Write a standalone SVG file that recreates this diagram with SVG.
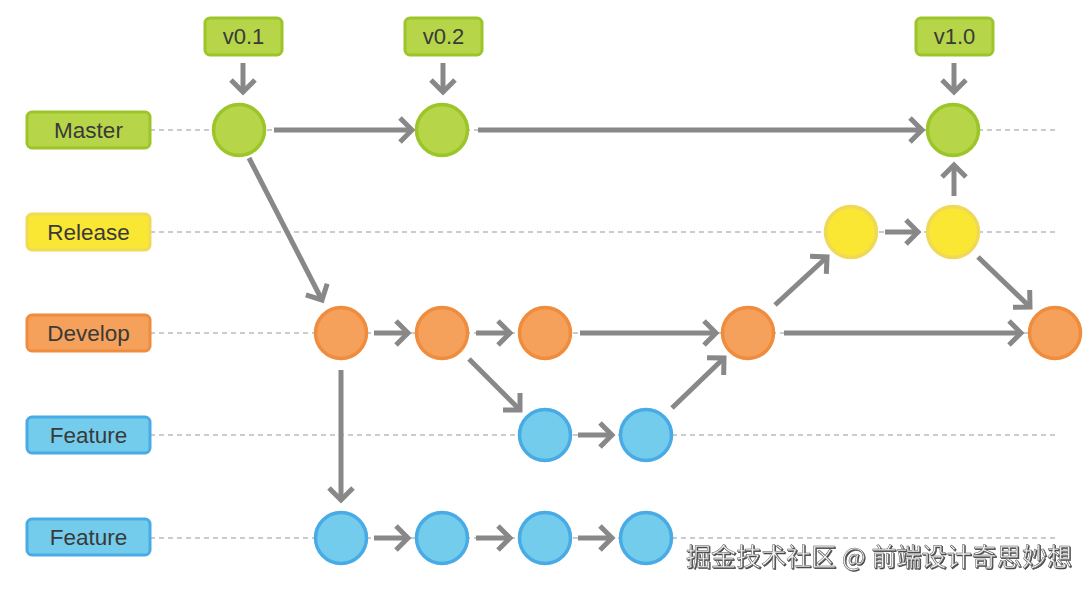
<svg xmlns="http://www.w3.org/2000/svg" width="1090" height="590" viewBox="0 0 1090 590">
<defs>
<marker id="ah" viewBox="-18 -18 24 36" refX="0" refY="0" markerWidth="24" markerHeight="36" markerUnits="userSpaceOnUse" orient="auto">
<path d="M-12,-12 L0,0 L-12,12" fill="none" stroke="#888" stroke-width="5" stroke-linejoin="miter"/>
</marker>
<filter id="sh" x="-5%" y="-30%" width="110%" height="160%">
<feDropShadow dx="1" dy="1" stdDeviation="0.6" flood-color="#333" flood-opacity="0.9"/>
</filter>
</defs>
<style>
.lane{stroke:#bbb;stroke-width:1.5;stroke-dasharray:5 4;fill:none}
.lbl{font-family:"Liberation Sans",Arial,sans-serif;font-size:22.5px;fill:#3a3a3a;text-anchor:middle}
.tag{font-family:"Liberation Sans",Arial,sans-serif;font-size:22px;fill:#3a3a3a;text-anchor:middle}
.g{fill:#b6d548;stroke:#9cc52a}
.y{fill:#f9e733;stroke:#efd957}
.o{fill:#f5a05b;stroke:#f08c3d}
.b{fill:#74ccec;stroke:#48abe5}
.box{stroke-width:3}
.c{stroke-width:3.5}
.conn line{stroke:#888;stroke-width:5;marker-end:url(#ah)}
.wm{font-family:"Noto Sans CJK SC","Liberation Sans",sans-serif;font-size:25px;fill:#f2f2f2;stroke:#555;stroke-width:0.5}
</style>
<g id="lanes">
<line class="lane" x1="150" y1="130" x2="1058" y2="130"/>
<line class="lane" x1="150" y1="232" x2="1058" y2="232"/>
<line class="lane" x1="150" y1="333" x2="1058" y2="333"/>
<line class="lane" x1="150" y1="435" x2="1058" y2="435"/>
<line class="lane" x1="150" y1="538" x2="1058" y2="538"/>
</g>
<g id="label-master"><rect class="g box" x="27" y="112" width="123" height="36" rx="5"/><text class="lbl" x="88.5" y="138">Master</text></g>
<g id="label-release"><rect class="y box" x="27" y="214" width="123" height="36" rx="5"/><text class="lbl" x="88.5" y="240">Release</text></g>
<g id="label-develop"><rect class="o box" x="27" y="315" width="123" height="36" rx="5"/><text class="lbl" x="88.5" y="341">Develop</text></g>
<g id="label-feature1"><rect class="b box" x="27" y="417" width="123" height="36" rx="5"/><text class="lbl" x="88.5" y="443">Feature</text></g>
<g id="label-feature2"><rect class="b box" x="27" y="519" width="123" height="36" rx="5"/><text class="lbl" x="88.5" y="545">Feature</text></g>
<g id="tag-v01"><rect class="g box" x="205" y="18" width="77" height="37" rx="5"/><text class="tag" x="243.5" y="44">v0.1</text></g>
<g id="tag-v02"><rect class="g box" x="405" y="18" width="77" height="37" rx="5"/><text class="tag" x="443.5" y="44">v0.2</text></g>
<g id="tag-v10"><rect class="g box" x="916" y="18" width="77" height="37" rx="5"/><text class="tag" x="954.5" y="44">v1.0</text></g>
<g id="connectors" class="conn">
<line x1="243" y1="63" x2="243" y2="92"/>
<line x1="443" y1="63" x2="443" y2="92"/>
<line x1="954" y1="63" x2="954" y2="92"/>
<line x1="274" y1="130" x2="412" y2="130"/>
<line x1="478" y1="130" x2="922" y2="130"/>
<line x1="249" y1="158" x2="322" y2="300"/>
<line x1="374" y1="333" x2="408" y2="333"/>
<line x1="476" y1="333" x2="510" y2="333"/>
<line x1="580" y1="333" x2="716" y2="333"/>
<line x1="784" y1="333" x2="1021" y2="333"/>
<line x1="469" y1="359" x2="520" y2="410"/>
<line x1="578" y1="435" x2="612" y2="435"/>
<line x1="672" y1="408" x2="724" y2="358"/>
<line x1="775" y1="305" x2="827" y2="257"/>
<line x1="885" y1="232" x2="918" y2="232"/>
<line x1="954" y1="196" x2="954" y2="165"/>
<line x1="978" y1="257" x2="1030" y2="307"/>
<line x1="341" y1="370" x2="341" y2="500"/>
<line x1="374" y1="538" x2="408" y2="538"/>
<line x1="476" y1="538" x2="510" y2="538"/>
<line x1="578" y1="538" x2="612" y2="538"/>
</g>
<g id="m1"><circle class="g c" cx="239" cy="130" r="25.5"/></g>
<g id="m2"><circle class="g c" cx="442" cy="130" r="25.5"/></g>
<g id="m3"><circle class="g c" cx="953" cy="130" r="25.5"/></g>
<g id="r1"><circle class="y c" cx="851" cy="232" r="25.5"/></g>
<g id="r2"><circle class="y c" cx="953" cy="232" r="25.5"/></g>
<g id="d1"><circle class="o c" cx="341" cy="333" r="25.5"/></g>
<g id="d2"><circle class="o c" cx="442" cy="333" r="25.5"/></g>
<g id="d3"><circle class="o c" cx="545" cy="333" r="25.5"/></g>
<g id="d4"><circle class="o c" cx="748" cy="333" r="25.5"/></g>
<g id="d5"><circle class="o c" cx="1055" cy="333" r="25.5"/></g>
<g id="f1"><circle class="b c" cx="545" cy="435" r="25.5"/></g>
<g id="f2"><circle class="b c" cx="646" cy="435" r="25.5"/></g>
<g id="g1"><circle class="b c" cx="341" cy="538" r="25.5"/></g>
<g id="g2"><circle class="b c" cx="442" cy="538" r="25.5"/></g>
<g id="g3"><circle class="b c" cx="545" cy="538" r="25.5"/></g>
<g id="g4"><circle class="b c" cx="646" cy="538" r="25.5"/></g>
<text class="wm" x="686" y="566" textLength="386" lengthAdjust="spacing" filter="url(#sh)">掘金技术社区 @ 前端设计奇思妙想</text>
</svg>
